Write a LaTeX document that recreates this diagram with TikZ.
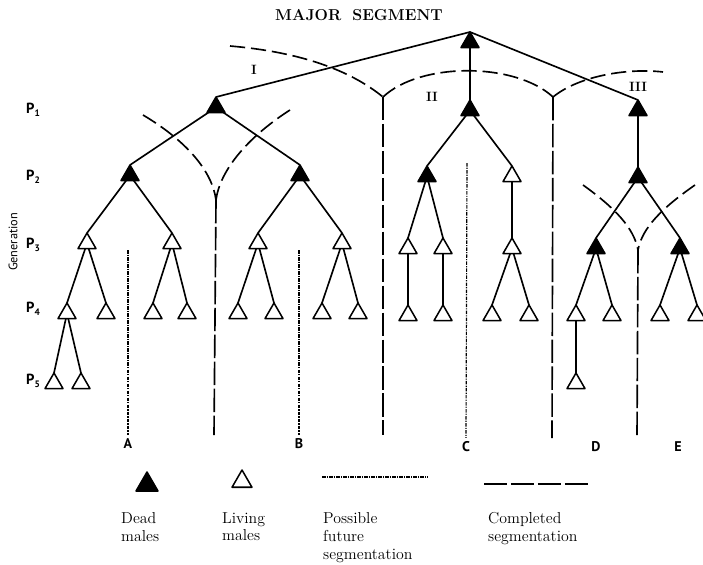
\documentclass[tikz,border=0pt]{standalone}
\usepackage{fontspec}
\newfontfamily\lblfont{PT Sans}
\usetikzlibrary{shapes.geometric,backgrounds}
\newcommand{\genlbl}[1]{P\raisebox{-0.45ex}{\fontsize{8}{9}\selectfont #1}}

\begin{document}
\begin{tikzpicture}[x=0.3mm,y=-0.3mm,line cap=round,
  tri/.style={regular polygon,regular polygon sides=3,minimum size=6.24mm,inner sep=0pt,outer sep=0pt,anchor=corner 1,draw,line width=1.3pt,line join=round},
  dead/.style={tri,fill=black},
  living/.style={tri,fill=white},
  kin/.style={line width=1.4pt},
  segline/.style={line width=1.4pt,line cap=butt,dash pattern=on 20pt off 3pt},
  segcurve/.style={line width=1.4pt,line cap=butt,dash pattern=on 13pt off 5pt},
  futline/.style={line width=1pt,line cap=butt,dash pattern=on 3pt off 1pt on 1pt off 1pt},
  gen/.style={font=\lblfont\bfseries\fontsize{12.5}{14}\selectfont},
  letter/.style={font=\lblfont\bfseries\fontsize{12}{14}\selectfont},
  roman/.style={font=\bfseries\fontsize{11.5}{13}\selectfont},
  legtext/.style={anchor=north west,inner sep=0pt,align=left,font=\fontsize{13.5}{15.3}\selectfont}]
\useasboundingbox (0,0) rectangle (703,564);
\node[font=\bfseries\fontsize{13.5}{16}\selectfont] (title) at (359,15) {MAJOR\hspace{0.7em}SEGMENT};
\node[roman] (nI) at (254,70) {I};
\node[roman] (nII) at (432,97) {II};
\node[roman] (nIII) at (638,87) {III};
\node[gen] (p1) at (33,110) {\genlbl{1}};
\node[gen] (p2) at (33,177) {\genlbl{2}};
\node[gen] (p3) at (33,245) {\genlbl{3}};
\node[gen] (p4) at (33,309) {\genlbl{4}};
\node[gen] (p5) at (33,381) {\genlbl{5}};
\node[gen,rotate=90,font=\lblfont\fontsize{10.5}{12}\selectfont] (gen) at (13,242) {Generation};
\node[dead] (top) at (470,32) {};
\node[dead] (i) at (216,97) {};
\node[dead] (ii) at (470,100) {};
\node[dead] (iii) at (638,100) {};
\node[dead] (il) at (130,165) {};
\node[dead] (ir) at (300,165) {};
\node[dead] (iil) at (427,166) {};
\node[living] (iir) at (512,166) {};
\node[dead] (iiia) at (638,167) {};
\node[living] (ill) at (87,233) {};
\node[living] (ilr) at (172,233) {};
\node[living] (irl) at (258,233) {};
\node[living] (irr) at (342,233) {};
\node[living] (iill) at (408,238) {};
\node[living] (iilr) at (443,238) {};
\node[living] (iirm) at (512,238) {};
\node[dead] (iiial) at (596,238) {};
\node[dead] (iiiar) at (680,238) {};
\node[living] (illl) at (67,303) {};
\node[living] (illr) at (106,303) {};
\node[living] (ilrl) at (153,303) {};
\node[living] (ilrr) at (187,303) {};
\node[living] (irll) at (238,303) {};
\node[living] (irlr) at (274,303) {};
\node[living] (irrl) at (322,303) {};
\node[living] (irrr) at (358,303) {};
\node[living] (iillm) at (408,305) {};
\node[living] (iilrm) at (443,305) {};
\node[living] (iirml) at (492,305) {};
\node[living] (iirmr) at (529,305) {};
\node[living] (iiiall) at (576,305) {};
\node[living] (iiialr) at (612,305) {};
\node[living] (iiiarl) at (660,305) {};
\node[living] (iiiarr) at (697,305) {};
\node[living] (illll) at (54,373) {};
\node[living] (illlr) at (81,373) {};
\node[living] (iiiallm) at (576,373) {};
\begin{scope}[on background layer]
\draw[kin] (top.corner 1) -- (i.corner 1);
\draw[kin] (top.corner 1) -- (iii.corner 1);
\draw[kin] (top.center) -- (ii.corner 1);
\draw[kin] (i.center) -- (il.corner 1);
\draw[kin] (i.center) -- (ir.corner 1);
\draw[kin] (il.center) -- (ill.corner 1);
\draw[kin] (il.center) -- (ilr.corner 1);
\draw[kin] (ir.center) -- (irl.corner 1);
\draw[kin] (ir.center) -- (irr.corner 1);
\draw[kin] (ill.center) -- (illl.corner 1);
\draw[kin] (ill.center) -- (illr.corner 1);
\draw[kin] (ilr.center) -- (ilrl.corner 1);
\draw[kin] (ilr.center) -- (ilrr.corner 1);
\draw[kin] (irl.center) -- (irll.corner 1);
\draw[kin] (irl.center) -- (irlr.corner 1);
\draw[kin] (irr.center) -- (irrl.corner 1);
\draw[kin] (irr.center) -- (irrr.corner 1);
\draw[kin] (illl.center) -- (illll.corner 1);
\draw[kin] (illl.center) -- (illlr.corner 1);
\draw[kin] (ii.center) -- (iil.corner 1);
\draw[kin] (ii.center) -- (iir.corner 1);
\draw[kin] (iil.center) -- (iill.corner 1);
\draw[kin] (iil.center) -- (iilr.corner 1);
\draw[kin] (iir.center) -- (iirm.corner 1);
\draw[kin] (iill.center) -- (iillm.corner 1);
\draw[kin] (iilr.center) -- (iilrm.corner 1);
\draw[kin] (iirm.center) -- (iirml.corner 1);
\draw[kin] (iirm.center) -- (iirmr.corner 1);
\draw[kin] (iii.center) -- (iiia.corner 1);
\draw[kin] (iiia.center) -- (iiial.corner 1);
\draw[kin] (iiia.center) -- (iiiar.corner 1);
\draw[kin] (iiial.center) -- (iiiall.corner 1);
\draw[kin] (iiial.center) -- (iiialr.corner 1);
\draw[kin] (iiiar.center) -- (iiiarl.corner 1);
\draw[kin] (iiiar.center) -- (iiiarr.corner 1);
\draw[kin] (iiiall.center) -- (iiiallm.corner 1);
\end{scope}
\coordinate (k1) at (383,97);
\coordinate (k2) at (553,97);
\coordinate (vI) at (216,200);
\coordinate (vIII) at (638,250);
\coordinate (b1) at (214,435);
\coordinate (b2) at (383,435);
\coordinate (b3) at (552,438);
\coordinate (b4) at (637,436);
\draw[segcurve] (230,46) .. controls (300,52) and (350,70) .. (k1);
\draw[segcurve] (k1) .. controls (420,62) and (515,62) .. (k2);
\draw[segcurve] (k2) .. controls (580,75) and (630,68) .. (663,72);
\draw[segcurve] (143,115) .. controls (185,140) and (212,170) .. (vI);
\draw[segcurve] (290,110) .. controls (248,137) and (220,170) .. (vI);
\draw[segcurve] (583,185) .. controls (615,208) and (634,228) .. (vIII);
\draw[segcurve] (695,185) .. controls (662,208) and (642,228) .. (vIII);
\draw[segline] (vI) -- (b1);
\draw[segline] (k1) -- (b2);
\draw[segline] (k2) -- (b3);
\draw[segline] (vIII) -- (b4);
\node[letter] (la) at (128,444) {A};
\node[letter] (lb) at (299,444) {B};
\node[letter] (lc) at (466,447) {C};
\node[letter] (ld) at (596,447) {D};
\node[letter] (le) at (678,447) {E};
\coordinate (fa) at (128,250);
\coordinate (fb) at (299,250);
\coordinate (fc) at (467,163);
\draw[futline] (fa) -- (la.north);
\draw[futline] (fb) -- (lb.north);
\draw[futline] (fc) -- (lc.north);
\node[dead,minimum size=7.6mm] (kdead) at (147,472) {};
\node[living,minimum size=6.9mm] (kliving) at (242,470) {};
\coordinate (kf1) at (322,477);
\coordinate (kf2) at (428,477);
\coordinate (ks1) at (484,484);
\coordinate (ks2) at (590,484);
\draw[futline] (kf1) -- (kf2);
\draw[segline] (ks1) -- (ks2);
\node[legtext] (tdead) at (121,512) {Dead\\males};
\node[legtext] (tliving) at (222,512) {Living\\males};
\node[legtext] (tfut) at (323,512) {Possible\\future\\segmentation};
\node[legtext] (tseg) at (488,512) {Completed\\segmentation};
\end{tikzpicture}
\end{document}
